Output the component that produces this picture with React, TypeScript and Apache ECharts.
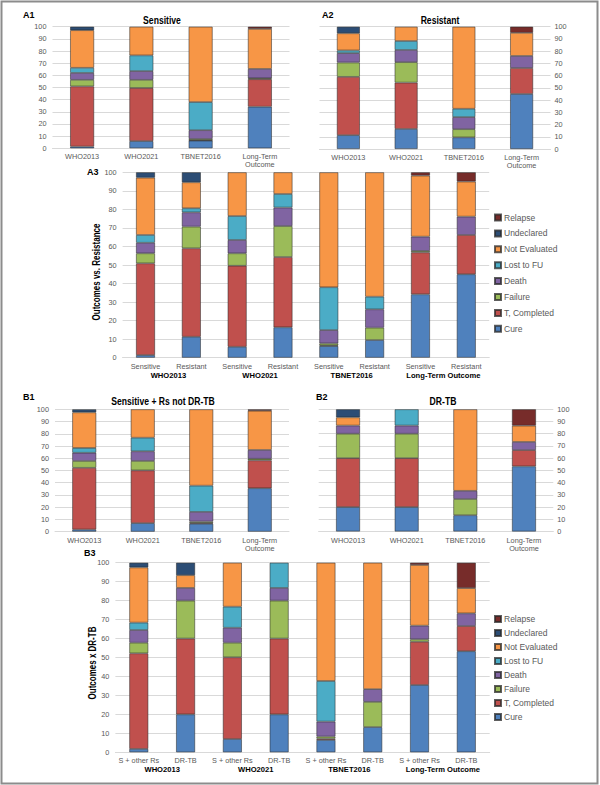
import React, { useEffect, useRef } from "react";
import * as echarts from "echarts";

// Outcome categories (stack order, bottom to top)
const outcomes = ["Cure", "T, Completed", "Failure", "Death", "Lost to FU", "Not Evaluated", "Undeclared", "Relapse"];
const outcomeColors = ["#4F81BD", "#C0504D", "#9BBB59", "#8064A2", "#4BACC6", "#F79646", "#2C4D75", "#772C2A"];

// Criteria groups
const groups = ["WHO2013", "WHO2021", "TBNET2016", "Long-Term Outcome"];
const panelCategories = ["WHO2013", "WHO2021", "TBNET2016", "Long-Term\nOutcome"];
const resistanceSub = ["Sensitive", "Resistant"];
const drSub = ["S + other Rs", "DR-TB"];

// Rows: outcomes (Cure ... Relapse); columns: WHO2013, WHO2021, TBNET2016, Long-Term Outcome (%)
const sensitiveValues = [
  [1.4, 5.9, 6.3, 34.2],
  [49.5, 43.7, 0.3, 22.6],
  [5.4, 6.7, 1.1, 0.8],
  [5.7, 7.2, 7.2, 7.7],
  [4.2, 12.9, 23.1, 0],
  [30.9, 23.6, 62.0, 32.9],
  [2.9, 0, 0, 0],
  [0, 0, 0, 1.8],
];
const resistantValues = [
  [11.3, 16.4, 9.5, 45.0],
  [47.7, 37.9, 0, 21.2],
  [11.7, 16.7, 6.7, 0],
  [7.7, 10.0, 9.9, 9.9],
  [2.2, 7.3, 6.8, 0],
  [14.0, 11.7, 67.1, 18.9],
  [5.4, 0, 0, 0],
  [0, 0, 0, 5.0],
];
const sOtherRsValues = [
  [1.8, 7.0, 6.5, 35.5],
  [50.4, 43.1, 0.7, 22.8],
  [5.6, 7.7, 1.1, 1.3],
  [6.7, 7.9, 7.9, 7.2],
  [3.9, 11.1, 21.4, 0],
  [29.1, 23.2, 62.4, 32.0],
  [2.5, 0, 0, 0],
  [0, 0, 0, 1.2],
];
const drTbValues = [
  [20.0, 20.0, 13.3, 53.3],
  [40.0, 40.0, 0, 13.3],
  [20.0, 20.0, 13.3, 0],
  [6.7, 6.7, 6.7, 6.7],
  [0, 13.3, 0, 0],
  [6.7, 0, 66.7, 13.3],
  [6.6, 0, 0, 0],
  [0, 0, 0, 13.4],
];

const FONT = "Liberation Sans, Arial, sans-serif";

type Panel = {
  grid: { left: number; top: number; width: number; height: number };
  yPos: "left" | "right";
  rows: number[][];
  cats: string[];
  barWidth: number;
  twoLevel: boolean;
};

function interleave(a: number[][], b: number[][]) {
  return a.map((row, i) => row.flatMap((v, j) => [v, b[i][j]]));
}

const panels: Panel[] = [
  { grid: { left: 52.5, top: 26.7, width: 237, height: 121.6 }, yPos: "left", rows: sensitiveValues, cats: panelCategories, barWidth: 24, twoLevel: false },
  { grid: { left: 319.5, top: 26.7, width: 231, height: 122.3 }, yPos: "right", rows: resistantValues, cats: panelCategories, barWidth: 23, twoLevel: false },
  { grid: { left: 122.6, top: 172.3, width: 366.6, height: 185.4 }, yPos: "left", rows: interleave(sensitiveValues, resistantValues), cats: groups.flatMap(() => resistanceSub), barWidth: 19, twoLevel: true },
  { grid: { left: 55, top: 409.3, width: 234, height: 122.4 }, yPos: "left", rows: sOtherRsValues, cats: panelCategories, barWidth: 24, twoLevel: false },
  { grid: { left: 318.7, top: 409.3, width: 234.6, height: 122.2 }, yPos: "right", rows: drTbValues, cats: panelCategories, barWidth: 24, twoLevel: false },
  { grid: { left: 115.4, top: 562.7, width: 374.3, height: 189.6 }, yPos: "left", rows: interleave(sOtherRsValues, drTbValues), cats: groups.flatMap(() => drSub), barWidth: 19, twoLevel: true },
];

function buildOption() {
  const grid: any[] = [];
  const xAxis: any[] = [];
  const yAxis: any[] = [];
  const series: any[] = [];

  panels.forEach((p, pi) => {
    grid.push({ ...p.grid, containLabel: false });
    const xIndex = xAxis.length;
    xAxis.push({
      type: "category",
      gridIndex: pi,
      data: p.cats,
      axisTick: { show: false },
      axisLine: { show: true, lineStyle: { color: "#D9D9D9", width: 1 } },
      axisLabel: { interval: 0, fontSize: 7.3, color: "#595959", fontFamily: FONT, margin: 4.5, lineHeight: 8 },
    });
    if (p.twoLevel) {
      xAxis.push({
        type: "category",
        gridIndex: pi,
        data: groups,
        position: "bottom",
        offset: 9,
        axisTick: { show: false },
        axisLine: { show: false },
        splitLine: { show: false },
        axisLabel: { interval: 0, fontSize: 7.6, fontWeight: "bold", color: "#000", fontFamily: FONT, margin: 4.5 },
      });
    }
    yAxis.push({
      type: "value",
      gridIndex: pi,
      min: 0,
      max: 100,
      interval: 10,
      position: p.yPos,
      axisLine: { show: false },
      axisTick: { show: false },
      axisLabel: { fontSize: 7.3, color: "#595959", fontFamily: FONT, margin: p.yPos === "left" ? 6 : 4 },
      splitLine: { show: true, lineStyle: { color: "#D9D9D9", width: 1 } },
    });
    p.rows.forEach((row, oi) => {
      series.push({
        type: "bar",
        name: outcomes[oi],
        xAxisIndex: xIndex,
        yAxisIndex: pi,
        stack: "panel" + pi,
        barWidth: p.barWidth,
        data: row.map((v) => (v === 0 ? null : v)),
        itemStyle: { color: outcomeColors[oi], borderColor: "rgba(40,40,40,0.75)", borderWidth: 0.7 },
        emphasis: { disabled: true },
      });
    });
  });

  const legendBase = {
    data: outcomes.slice().reverse(),
    orient: "vertical",
    left: 489,
    icon: "rect",
    itemWidth: 6,
    itemHeight: 6,
    selectedMode: false,
    textStyle: { fontSize: 8.5, color: "#595959", fontFamily: FONT, lineHeight: 10, padding: [0, 0, 0, -2] },
  };

  const text = (t: string, x: number, y: number, size: number, align: string, scaleX = 1, rotation = 0) => ({
    type: "text",
    x,
    y,
    scaleX,
    rotation,
    style: { text: t, fontSize: size, fontWeight: "bold", fill: "#000", fontFamily: FONT, textAlign: align, textVerticalAlign: "middle" },
    silent: true,
  });

  return {
    animation: false,
    backgroundColor: "#ffffff",
    grid,
    xAxis,
    yAxis,
    series,
    legend: [
      { ...legendBase, top: 207.5, itemGap: 5.9 },
      { ...legendBase, top: 609, itemGap: 4 },
    ],
    graphic: [
      { type: "rect", shape: { x: 1.5, y: 1.5, width: 596, height: 782 }, style: { fill: "none", stroke: "#8c8c8c", lineWidth: 2 }, silent: true },
      text("A1", 23, 15, 9, "left"),
      text("Sensitive", 162, 20, 10.5, "center", 0.82),
      text("A2", 322, 15, 9, "left"),
      text("Resistant", 440, 20, 10.5, "center", 0.82),
      text("A3", 87, 172, 9, "left"),
      text("Outcomes vs. Resistance", 97, 272, 10, "center", 0.8, Math.PI / 2),
      text("B1", 23, 397, 9, "left"),
      text("Sensitive + Rs not DR-TB", 163, 401, 10.5, "center", 0.82),
      text("B2", 316, 397, 9, "left"),
      text("DR-TB", 443, 401, 10.5, "center", 0.82),
      text("B3", 84, 553, 9, "left"),
      text("Outcomes x DR-TB", 93, 663, 10, "center", 0.8, Math.PI / 2),
    ],
  };
}

export default function App() {
  const ref = useRef<HTMLDivElement>(null);
  useEffect(() => {
    document.body.style.margin = "0";
    if (!ref.current) return;
    const chart = echarts.init(ref.current, undefined, { renderer: "svg" });
    chart.setOption(buildOption() as any);
    return () => chart.dispose();
  }, []);
  return <div ref={ref} style={{ width: 600, height: 785 }} />;
}
